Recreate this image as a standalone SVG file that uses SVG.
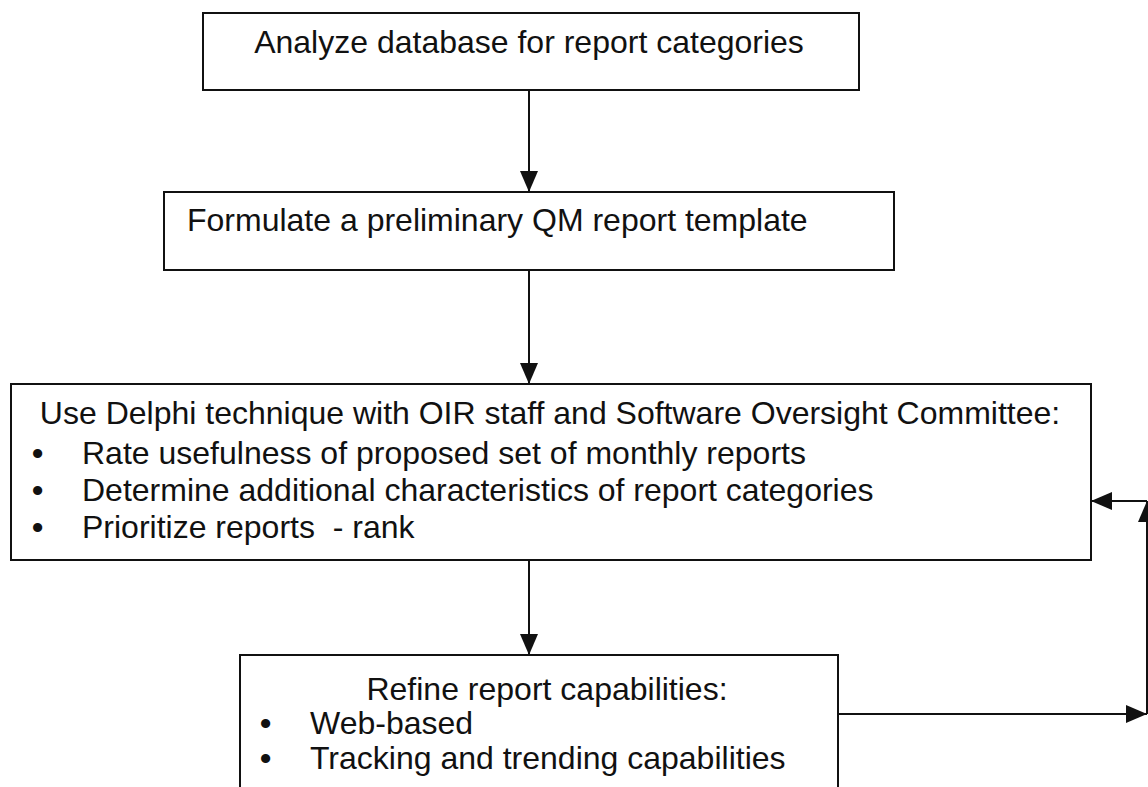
<svg xmlns="http://www.w3.org/2000/svg" width="1148" height="787" viewBox="0 0 1148 787">
  <style>
    .box { fill: #ffffff; stroke: #111111; stroke-width: 2; }
    .lbl { font-family: "Liberation Sans", Arial, sans-serif; font-size: 32px; fill: #111111; }
    .mid { text-anchor: middle; }
    .bul { font-weight: bold; }
    .conn { fill: none; stroke: #111111; stroke-width: 2; }
  </style>
  <defs>
    <marker id="ah" viewBox="0 0 21 18" refX="21" refY="9" markerWidth="21" markerHeight="18" markerUnits="userSpaceOnUse" orient="auto">
      <path d="M0,0 L21,9 L0,18 z" fill="#111111"/>
    </marker>
  </defs>
  <rect width="1148" height="787" fill="#ffffff"/>

  <g id="connectors">
    <line class="conn" x1="529" y1="90" x2="529" y2="192" marker-end="url(#ah)"/>
    <line class="conn" x1="529" y1="270" x2="529" y2="384" marker-end="url(#ah)"/>
    <line class="conn" x1="529" y1="560" x2="529" y2="655" marker-end="url(#ah)"/>
    <line class="conn" x1="838" y1="714" x2="1147" y2="714" marker-end="url(#ah)"/>
    <line class="conn" x1="1147" y1="714" x2="1147" y2="501" marker-end="url(#ah)"/>
    <line class="conn" x1="1147" y1="501" x2="1091" y2="501" marker-end="url(#ah)"/>
  </g>

  <g id="analyze">
    <rect class="box" x="203" y="13" width="656" height="77"/>
    <text class="lbl mid" x="529" y="53">Analyze database for report categories</text>
  </g>

  <g id="formulate">
    <rect class="box" x="164" y="192" width="730" height="78"/>
    <text class="lbl" x="187" y="231">Formulate a preliminary QM report template</text>
  </g>

  <g id="delphi">
    <rect class="box" x="11" y="384" width="1080" height="176"/>
    <text class="lbl mid" x="550" y="424">Use Delphi technique with OIR staff and Software Oversight Committee:</text>
    <text class="lbl" y="464"><tspan class="bul" x="32">•</tspan><tspan x="82">Rate usefulness of proposed set of monthly reports</tspan></text>
    <text class="lbl" y="501"><tspan class="bul" x="32">•</tspan><tspan x="82">Determine additional characteristics of report categories</tspan></text>
    <text class="lbl" y="538" xml:space="preserve"><tspan class="bul" x="32">•</tspan><tspan x="82">Prioritize reports  - rank</tspan></text>
  </g>

  <g id="refine">
    <rect class="box" x="240" y="655" width="598" height="200"/>
    <text class="lbl mid" x="547" y="700">Refine report capabilities:</text>
    <text class="lbl" y="734"><tspan class="bul" x="260">•</tspan><tspan x="310">Web-based</tspan></text>
    <text class="lbl" y="769"><tspan class="bul" x="260">•</tspan><tspan x="310">Tracking and trending capabilities</tspan></text>
  </g>
</svg>
